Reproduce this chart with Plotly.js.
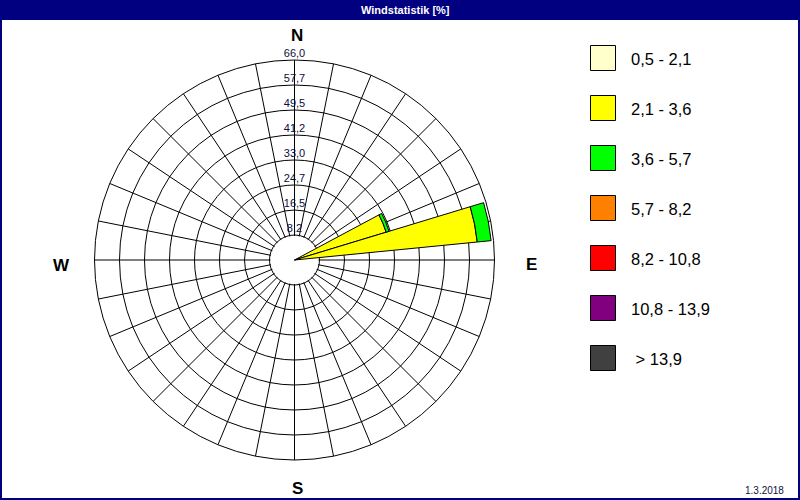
<!DOCTYPE html>
<html>
<head>
<meta charset="utf-8">
<script src="https://cdn.plot.ly/plotly-3.0.1.min.js"></script>
<style>html,body{margin:0;padding:0;background:#fff;}#chart{width:800px;height:500px;}</style>
</head>
<body>
<div id="chart"></div>
<script>
// 32 compass sectors (bearing in degrees, clockwise from north)
const bearings = [0, 11.25, 22.5, 33.75, 45, 56.25, 67.5, 78.75, 90, 101.25, 112.5, 123.75,
  135, 146.25, 157.5, 168.75, 180, 191.25, 202.5, 213.75, 225, 236.25, 247.5, 258.75,
  270, 281.25, 292.5, 303.75, 315, 326.25, 337.5, 348.75];

// wind speed classes (m/s)
const classNames = ['0,5 - 2,1', '2,1 - 3,6', '3,6 - 5,7', '5,7 - 8,2', '8,2 - 10,8', '10,8 - 13,9', ' > 13,9'];
const classColors = ['#FFFFCC', '#FFFF00', '#00FF00', '#FF8000', '#FF0000', '#800080', '#404040'];

// frequency [%] per sector for each class
const cls1 = [0,0,0,0,0,0,0,0,0,0,0,0,0,0,0,0,0,0,0,0,0,0,0,0,0,0,0,0,0,0,0,0];
const cls2 = [0,0,0,0,0,0,31.6,60.6,0,0,0,0,0,0,0,0,0,0,0,0,0,0,0,0,0,0,0,0,0,0,0,0];
const cls3 = [0,0,0,0,0,0,1.0,4.6,0,0,0,0,0,0,0,0,0,0,0,0,0,0,0,0,0,0,0,0,0,0,0,0];
const cls4 = [0,0,0,0,0,0,0,0,0,0,0,0,0,0,0,0,0,0,0,0,0,0,0,0,0,0,0,0,0,0,0,0];
const cls5 = [0,0,0,0,0,0,0,0,0,0,0,0,0,0,0,0,0,0,0,0,0,0,0,0,0,0,0,0,0,0,0,0];
const cls6 = [0,0,0,0,0,0,0,0,0,0,0,0,0,0,0,0,0,0,0,0,0,0,0,0,0,0,0,0,0,0,0,0];
const cls7 = [0,0,0,0,0,0,0,0,0,0,0,0,0,0,0,0,0,0,0,0,0,0,0,0,0,0,0,0,0,0,0,0];
const classValues = [cls1, cls2, cls3, cls4, cls5, cls6, cls7];

// radial scale ticks
const radialTicks = [8.25, 16.5, 24.75, 33, 41.25, 49.5, 57.75, 66];
const radialTickText = ['8,2', '16,5', '24,7', '33,0', '41,2', '49,5', '57,7', '66,0'];
const radialMax = 66;
const hubRadius = 7.9;

const chartTitle = 'Windstatistik [%]';
const dateText = '1.3.2018';
const compass = [{t: 'N', x: 297, y: 36}, {t: 'E', x: 531, y: 264}, {t: 'S', x: 297, y: 488}, {t: 'W', x: 61, y: 265}];

const W = 800, H = 500;
const px = x => x / W;
const py = y => 1 - y / H;

const traces = [];
// white hub on the grid subplot, hiding the spokes inside the first ring
const hubTheta = [], hubR = [];
for (let a = 0; a <= 360; a += 2) { hubTheta.push(a); hubR.push(hubRadius); }
traces.push({
  type: 'scatterpolar', subplot: 'polar', mode: 'lines', theta: hubTheta, r: hubR,
  fill: 'toself', fillcolor: '#ffffff', line: {width: 0, color: '#ffffff'},
  hoverinfo: 'skip', showlegend: false
});

classValues.forEach((vals, i) => {
  traces.push({
    type: 'barpolar', subplot: 'polar2',
    name: classNames[i],
    theta: bearings,
    r: vals.map(v => v > 0 ? v : null),
    width: 11.25,
    marker: {color: classColors[i], line: {color: '#000000', width: 1}},
    showlegend: false
  });
});

// radial scale labels along the north spoke
traces.push({
  type: 'scatterpolar', subplot: 'polar2', mode: 'text', r: radialTicks, theta: radialTicks.map(() => 0),
  text: radialTickText, textposition: 'top center', cliponaxis: false,
  textfont: {family: 'Liberation Sans, Arial, sans-serif', size: 11, color: '#0c0c40'},
  hoverinfo: 'skip', showlegend: false
});

const shapes = [
  {type: 'rect', xref: 'paper', yref: 'paper', x0: 0, x1: 1, y0: py(20), y1: 1, fillcolor: '#000080', line: {width: 0}},
  {type: 'rect', xref: 'paper', yref: 'paper', x0: px(1), x1: px(799), y0: py(499), y1: py(1), line: {color: '#000080', width: 2}}
];
const annotations = [
  {text: chartTitle, xref: 'paper', yref: 'paper', x: px(405), y: py(10), xanchor: 'center', yanchor: 'middle', showarrow: false,
   font: {family: 'Liberation Sans, Arial, sans-serif', size: 11, color: '#ffffff', weight: 'bold'}},
  {text: dateText, xref: 'paper', yref: 'paper', x: px(786), y: py(490), xanchor: 'right', yanchor: 'middle', showarrow: false,
   font: {family: 'Liberation Sans, Arial, sans-serif', size: 10, color: '#101040'}}
];
compass.forEach(c => annotations.push({
  text: c.t, xref: 'paper', yref: 'paper', x: px(c.x), y: py(c.y), xanchor: 'center', yanchor: 'middle', showarrow: false,
  font: {family: 'Liberation Sans, Arial, sans-serif', size: 17, color: '#000000', weight: 'bold'}
}));
// legend
classNames.forEach((n, i) => {
  const top = 45 + 50 * i;
  shapes.push({type: 'rect', xref: 'paper', yref: 'paper', x0: px(590.5), x1: px(615.5), y0: py(top + 25.5), y1: py(top + 0.5),
    fillcolor: classColors[i], line: {color: '#000000', width: 1}});
  annotations.push({text: n, xref: 'paper', yref: 'paper', x: px(629), y: py(top + 14), xanchor: 'left', yanchor: 'middle', showarrow: false,
    font: {family: 'Liberation Sans, Arial, sans-serif', size: 16.5, color: '#000000'}});
});

const polarDomain = {x: [px(94.5), px(494.5)], y: [py(460), py(60)]};
const layout = {
  width: W, height: H,
  margin: {l: 0, r: 0, t: 0, b: 0},
  paper_bgcolor: '#ffffff',
  showlegend: false,
  polar: {
    domain: polarDomain,
    bgcolor: '#ffffff',
    radialaxis: {range: [0, radialMax], tickmode: 'array', tickvals: radialTicks, showticklabels: false, ticks: '',
      showline: false, gridcolor: '#000000', gridwidth: 1},
    angularaxis: {direction: 'clockwise', rotation: 90, tickmode: 'array', tickvals: bearings, showticklabels: false, ticks: '',
      showline: true, linecolor: '#000000', linewidth: 1, gridcolor: '#000000', gridwidth: 1}
  },
  polar2: {
    domain: polarDomain,
    bgcolor: 'rgba(0,0,0,0)',
    barmode: 'stack',
    radialaxis: {range: [0, radialMax], showgrid: false, showticklabels: false, ticks: '', showline: false},
    angularaxis: {direction: 'clockwise', rotation: 90, showgrid: false, showticklabels: false, ticks: '', showline: false}
  },
  shapes: shapes,
  annotations: annotations
};

Plotly.newPlot('chart', traces, layout, {displayModeBar: false, staticPlot: true});
</script>
</body>
</html>
